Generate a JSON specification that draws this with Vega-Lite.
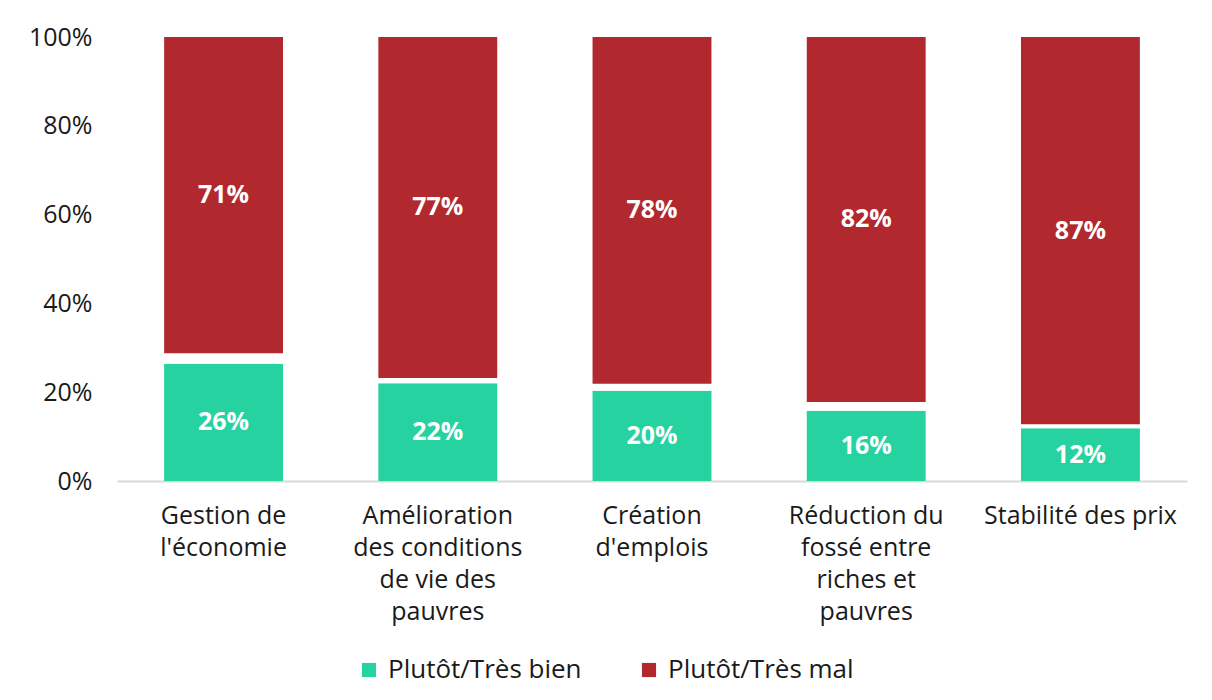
{
  "$schema": "https://vega.github.io/schema/vega-lite/v6.json",
  "width": 1070,
  "height": 444,
  "autosize": {"type": "none"},
  "padding": {"left": 117, "top": 37, "right": 25, "bottom": 219},
  "background": "white",
  "config": {
    "view": {"stroke": null},
    "font": "Open Sans",
    "axis": {"labelFont": "Open Sans", "labelColor": "#1a1a1a"},
    "legend": {"labelFont": "Open Sans"}
  },
  "data": {
    "values": [
      {"cat": "Gestion de l'économie", "serie": "Plutôt/Très bien", "ord": 1, "value": 26.4},
      {"cat": "Gestion de l'économie", "serie": "NSP", "ord": 2, "value": 2.4},
      {"cat": "Gestion de l'économie", "serie": "Plutôt/Très mal", "ord": 3, "value": 71.2},
      {"cat": "Amélioration des conditions de vie des pauvres", "serie": "Plutôt/Très bien", "ord": 1, "value": 22.0},
      {"cat": "Amélioration des conditions de vie des pauvres", "serie": "NSP", "ord": 2, "value": 1.2},
      {"cat": "Amélioration des conditions de vie des pauvres", "serie": "Plutôt/Très mal", "ord": 3, "value": 76.8},
      {"cat": "Création d'emplois", "serie": "Plutôt/Très bien", "ord": 1, "value": 20.3},
      {"cat": "Création d'emplois", "serie": "NSP", "ord": 2, "value": 1.6},
      {"cat": "Création d'emplois", "serie": "Plutôt/Très mal", "ord": 3, "value": 78.1},
      {"cat": "Réduction du fossé entre riches et pauvres", "serie": "Plutôt/Très bien", "ord": 1, "value": 15.8},
      {"cat": "Réduction du fossé entre riches et pauvres", "serie": "NSP", "ord": 2, "value": 2.0},
      {"cat": "Réduction du fossé entre riches et pauvres", "serie": "Plutôt/Très mal", "ord": 3, "value": 82.2},
      {"cat": "Stabilité des prix", "serie": "Plutôt/Très bien", "ord": 1, "value": 11.9},
      {"cat": "Stabilité des prix", "serie": "NSP", "ord": 2, "value": 0.9},
      {"cat": "Stabilité des prix", "serie": "Plutôt/Très mal", "ord": 3, "value": 87.2}
    ]
  },
  "transform": [
    {"stack": "value", "groupby": ["cat"], "sort": [{"field": "ord", "order": "ascending"}], "as": ["v0", "v1"]},
    {"calculate": "(datum.v0 + datum.v1) / 2", "as": "vmid"},
    {"calculate": "format(datum.value, '.0f') + '%'", "as": "lab"}
  ],
  "layer": [
    {
      "mark": {"type": "bar"},
      "encoding": {
        "x": {
          "field": "cat", "type": "nominal", "sort": null,
          "scale": {"paddingInner": 0.445, "paddingOuter": 0.22},
          "axis": {
            "title": null, "labelAngle": 0, "ticks": false,
            "domainColor": "#D9D9D9", "domainWidth": 2,
            "labelFontSize": 25, "labelPadding": 22, "labelLineHeight": 32,
            "labelBaseline": "top", "labelLimit": 400,
            "labelExpr": "datum.value == \"Gestion de l'économie\" ? ['Gestion de', \"l'économie\"] : datum.value == 'Amélioration des conditions de vie des pauvres' ? ['Amélioration', 'des conditions', 'de vie des', 'pauvres'] : datum.value == \"Création d'emplois\" ? ['Création', \"d'emplois\"] : datum.value == 'Réduction du fossé entre riches et pauvres' ? ['Réduction du', 'fossé entre', 'riches et', 'pauvres'] : datum.value"
          }
        },
        "y": {
          "field": "v0", "type": "quantitative",
          "scale": {"domain": [0, 100]},
          "axis": {
            "title": null, "values": [0, 20, 40, 60, 80, 100], "grid": false,
            "domain": false, "ticks": false, "labelFontSize": 25, "labelPadding": 25,
            "labelExpr": "datum.value + '%'"
          }
        },
        "y2": {"field": "v1"},
        "color": {
          "field": "serie", "type": "nominal",
          "scale": {"domain": ["Plutôt/Très bien", "NSP", "Plutôt/Très mal"], "range": ["#25D2A0", "#FFFFFF", "#B2282F"]},
          "legend": {
            "title": null, "values": ["Plutôt/Très bien", "Plutôt/Très mal"],
            "orient": "none", "direction": "horizontal",
            "legendX": 239, "legendY": 620,
            "symbolType": "square", "symbolSize": 200, "symbolStrokeWidth": 0,
            "labelFontSize": 26, "labelColor": "#1a1a1a", "labelLimit": 500,
            "columnPadding": 54, "labelOffset": 6
          }
        }
      }
    },
    {
      "transform": [{"filter": "datum.serie != 'NSP'"}],
      "mark": {"type": "text", "color": "white", "fontWeight": "bold", "fontSize": 25, "baseline": "middle", "align": "center"},
      "encoding": {
        "x": {"field": "cat", "type": "nominal", "sort": null},
        "y": {"field": "vmid", "type": "quantitative"},
        "text": {"field": "lab"}
      }
    }
  ]
}
